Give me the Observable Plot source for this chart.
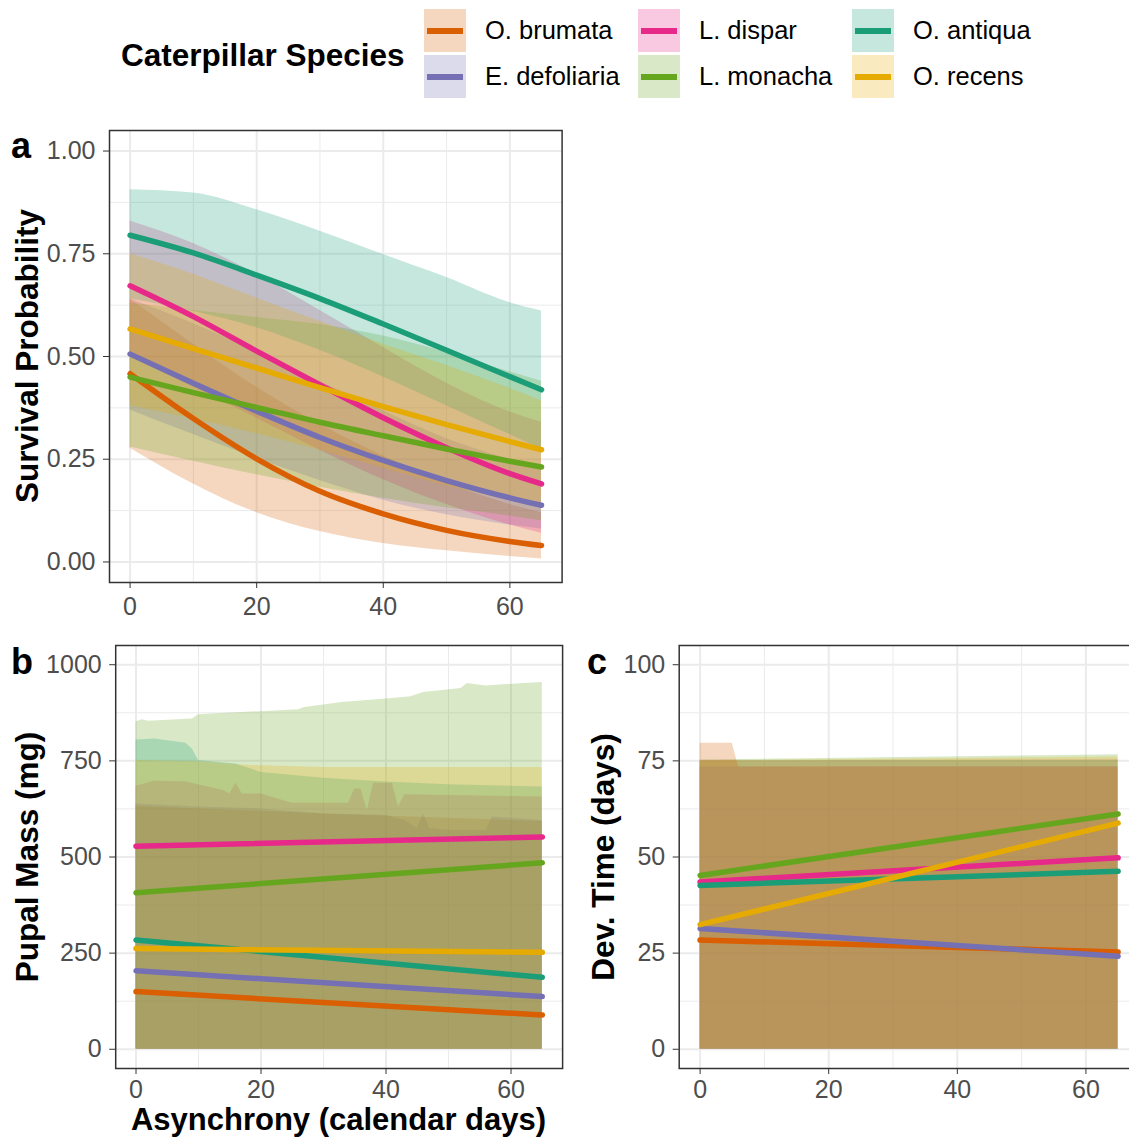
<!DOCTYPE html>
<html>
<head>
<meta charset="utf-8">
<script src="https://cdn.jsdelivr.net/npm/d3@7"></script>
<script src="https://cdn.jsdelivr.net/npm/@observablehq/plot@0.6"></script>
<style>
  body { margin: 0; background: #fff; }
  #root { position: relative; width: 1129px; height: 1137px; overflow: hidden; background: #fff;
          font-family: "Liberation Sans", Arial, sans-serif; }
  .abs { position: absolute; white-space: nowrap; line-height: 1; }
  .title { font-weight: bold; color: #000; font-size: 31.5px; }
  .tag { font-weight: bold; color: #000; font-size: 36px; }
  .rot { transform: translate(-50%, -50%) rotate(-90deg); }
  .panel { position: absolute; }
  .panel svg { overflow: visible; max-width: none !important; }
</style>
</head>
<body>
<div id="root"></div>
<script>
// Species and Dark2 colours
const species = ["O. brumata", "E. defoliaria", "L. dispar", "L. monacha", "O. antiqua", "O. recens"];
const colors  = ["#D95F02", "#7570B3", "#E7298A", "#66A61E", "#1B9E77", "#E6AB02"];

// Axis ticks
const dayTicks = [0, 20, 40, 60];
const dayMinor = [10, 30, 50];
const survTicks = [0, 0.25, 0.5, 0.75, 1];
const survMinor = [0.125, 0.375, 0.625, 0.875];
const massTicks = [0, 250, 500, 750, 1000];
const massMinor = [125, 375, 625, 875];
const devTicks = [0, 25, 50, 75, 100];
const devMinor = [12.5, 37.5, 62.5, 87.5];

// (a) Survival probability: fitted curve and 95% band, rows follow `species`
const survDays = [0, 10, 20, 30, 40, 50, 60, 65];
const survFit = [
  [0.458, 0.349, 0.251, 0.172, 0.117, 0.077, 0.050, 0.040],
  [0.506, 0.435, 0.367, 0.303, 0.247, 0.198, 0.156, 0.138],
  [0.672, 0.597, 0.513, 0.431, 0.351, 0.278, 0.215, 0.190],
  [0.450, 0.412, 0.376, 0.340, 0.307, 0.275, 0.245, 0.231],
  [0.795, 0.752, 0.698, 0.641, 0.579, 0.515, 0.451, 0.419],
  [0.567, 0.519, 0.472, 0.424, 0.378, 0.334, 0.293, 0.273]
];
const survLow = [
  [0.277, 0.190, 0.120, 0.074, 0.045, 0.027, 0.013, 0.007],
  [0.370, 0.310, 0.252, 0.198, 0.150, 0.115, 0.090, 0.080],
  [0.500, 0.425, 0.350, 0.272, 0.200, 0.140, 0.090, 0.070],
  [0.280, 0.245, 0.212, 0.182, 0.155, 0.132, 0.112, 0.100],
  [0.640, 0.610, 0.570, 0.515, 0.450, 0.380, 0.310, 0.275],
  [0.380, 0.348, 0.312, 0.272, 0.228, 0.185, 0.150, 0.130]
];
const survHigh = [
  [0.640, 0.530, 0.425, 0.335, 0.258, 0.192, 0.140, 0.120],
  [0.640, 0.580, 0.512, 0.440, 0.368, 0.300, 0.250, 0.230],
  [0.830, 0.775, 0.700, 0.612, 0.522, 0.435, 0.365, 0.340],
  [0.630, 0.612, 0.595, 0.578, 0.550, 0.510, 0.462, 0.440],
  [0.906, 0.898, 0.857, 0.805, 0.748, 0.692, 0.631, 0.611],
  [0.750, 0.700, 0.642, 0.585, 0.530, 0.478, 0.422, 0.392]
];

// (b) Pupal mass: linear fit at 0 and 65 days, band from 0 up to an upper bound
const lineDays = [0, 65];
const massFit = [
  [150, 89], [204, 137], [528, 552], [407, 485], [284, 187], [262, 252]
];
const massHighDays = [
  [0, 30, 65],
  [0, 10, 20, 30, 40, 43, 45, 46, 47, 50, 56, 57, 65],
  [0, 3, 8, 14, 15, 16, 17, 20, 25, 34, 35, 36, 37, 38, 41, 42, 43, 50, 65],
  [0, 1, 2, 9, 10, 20, 26, 27, 33, 40, 44, 46, 52, 53, 56, 65],
  [0, 3, 8, 9, 10, 16, 20, 30, 40, 50, 65],
  [0, 10, 16, 20, 30, 40, 50, 65]
];
const massHigh = [
  [632, 612, 592],
  [638, 630, 625, 612, 608, 595, 574, 612, 574, 569, 569, 604, 595],
  [684, 697, 695, 673, 664, 692, 664, 664, 640, 640, 677, 677, 621, 692, 692, 630, 662, 660, 656],
  [852, 857, 853, 859, 870, 878, 883, 889, 902, 911, 917, 928, 938, 951, 945, 954],
  [804, 807, 796, 781, 751, 742, 720, 705, 695, 688, 682],
  [751, 748, 740, 737, 733, 733, 733, 733]
];

// (c) Development time: linear fit and band from 0 up to an upper bound
const devFit = [
  [28.4, 25.3], [31.4, 24.2], [43.5, 49.8], [45.2, 61.2], [42.6, 46.3], [32.4, 58.8]
];
const devHighDays = [
  [0, 5, 6, 65], [0, 65], [0, 65], [0, 65], [0, 65], [0, 65]
];
const devHigh = [
  [79.6, 79.6, 73.4, 73.4], [73.4, 73.5], [75.0, 75.3], [75.2, 76.6], [75.0, 75.1], [75.0, 76.0]
];
// Stacking order of the development-time bands (last one on top)
const devBandOrder = ["L. dispar", "O. antiqua", "L. monacha", "E. defoliaria", "O. recens", "O. brumata"];

// Build tidy rows for the marks
const bandRows = (daysBy, lowBy, highBy) => species.flatMap((s, i) =>
  daysBy(i).map((d, j) => ({species: s, day: d, lo: lowBy(i, j), hi: highBy[i][j]})));
const fitRows = (days, fit) => species.flatMap((s, i) =>
  days.map((d, j) => ({species: s, day: d, value: fit[i][j]})));

const survBand = bandRows(() => survDays, (i, j) => survLow[i][j], survHigh);
const survLine = fitRows(survDays, survFit);
const massBand = bandRows(i => massHighDays[i], () => 0, massHigh);
const massLine = fitRows(lineDays, massFit);
const devBand = bandRows(i => devHighDays[i], () => 0, devHigh)
  .sort((a, b) => devBandOrder.indexOf(a.species) - devBandOrder.indexOf(b.species) || a.day - b.day);
const devLine = fitRows(lineDays, devFit);

const root = document.getElementById("root");

function panel({left, top, width, height, margin, yDomain, yTicks, yMinor, yFormat, band, line, curve, xPad = 9}) {
  const [mt, mr, mb, ml] = margin;
  const grid = "#EBEBEB";
  const chart = Plot.plot({
    width, height,
    marginTop: mt, marginRight: mr, marginBottom: mb, marginLeft: ml,
    style: {fontFamily: "Liberation Sans, Arial, sans-serif", background: "transparent", overflow: "visible"},
    x: {domain: [-3.25, 68.25]},
    y: {domain: yDomain},
    color: {domain: species, range: colors},
    marks: [
      Plot.ruleY(yMinor, {stroke: grid, strokeWidth: 1}),
      Plot.ruleX(dayMinor, {stroke: grid, strokeWidth: 1}),
      Plot.ruleY(yTicks, {stroke: grid, strokeWidth: 2}),
      Plot.ruleX(dayTicks, {stroke: grid, strokeWidth: 2}),
      Plot.areaY(band, {x: "day", y1: "lo", y2: "hi", z: "species", fill: "species", fillOpacity: 0.25, curve}),
      Plot.line(line, {x: "day", y: "value", z: "species", stroke: "species", strokeWidth: 5.5, curve}),
      Plot.frame({stroke: "#333333", strokeWidth: 1.5}),
      Plot.axisX(dayTicks, {tickSize: 6, tickPadding: xPad, stroke: "#333333", fill: "#4D4D4D", fontSize: 25, label: null}),
      Plot.axisY(yTicks, {tickSize: 6, tickPadding: 8, stroke: "#333333", fill: "#4D4D4D", fontSize: 25, label: null, tickFormat: yFormat})
    ]
  });
  const holder = document.createElement("div");
  holder.className = "panel";
  holder.style.left = left + "px";
  holder.style.top = top + "px";
  holder.style.width = width + "px";
  holder.style.height = height + "px";
  holder.appendChild(chart);
  root.appendChild(holder);
}

panel({left: 0, top: 120, width: 580, height: 520, margin: [10, 18.4, 58, 109],
       yDomain: [-0.05, 1.05], yTicks: survTicks, yMinor: survMinor, yFormat: d3.format(".2f"),
       band: survBand, line: survLine, curve: "monotone-x"});
panel({left: 0, top: 630, width: 580, height: 507, margin: [15, 17.9, 69, 115.2],
       yDomain: [-50, 1050], yTicks: massTicks, yMinor: massMinor, yFormat: d3.format("d"),
       band: massBand, line: massLine, curve: "linear", xPad: 6});
panel({left: 600, top: 630, width: 560, height: 507, margin: [15, 21.5, 69, 78.7],
       yDomain: [-5, 105], yTicks: devTicks, yMinor: devMinor, yFormat: d3.format("d"),
       band: devBand, line: devLine, curve: "linear", xPad: 6});

// Text helpers
function label(text, cls, css) {
  const el = document.createElement("div");
  el.className = "abs " + cls;
  el.textContent = text;
  Object.assign(el.style, css);
  root.appendChild(el);
  return el;
}

label("Survival Probability", "title rot", {left: "28px", top: "356px"});
label("Pupal Mass (mg)", "title rot", {left: "28px", top: "857px"});
label("Dev. Time (days)", "title rot", {left: "604px", top: "857px"});
label("Asynchrony (calendar days)", "title",
      {left: "338.5px", top: "1108px", fontSize: "31px", lineHeight: "0.8", transform: "translateX(-50%)"});
label("a", "tag", {left: "11px", top: "128px"});
label("b", "tag", {left: "11px", top: "644px"});
label("c", "tag", {left: "587px", top: "644px"});

// Legend
label("Caterpillar Species", "title", {left: "121px", top: "40px"});
const keyX = [424, 638, 852];
const keyY = [9, 55];
species.forEach((s, i) => {
  const col = Math.floor(i / 2), row = i % 2;
  const c = d3.color(colors[i]);
  const key = document.createElement("div");
  key.className = "abs";
  Object.assign(key.style, {left: keyX[col] + "px", top: keyY[row] + "px", width: "42px", height: "43px",
    background: `rgba(${c.r},${c.g},${c.b},0.25)`});
  const bar = document.createElement("div");
  bar.className = "abs";
  Object.assign(bar.style, {left: "3px", top: "19px", width: "36px", height: "5.5px", background: colors[i]});
  key.appendChild(bar);
  root.appendChild(key);
  label(s, "", {left: (keyX[col] + 61) + "px", top: (keyY[row] + 9) + "px", fontSize: "25.5px", color: "#000"});
});
</script>
</body>
</html>
